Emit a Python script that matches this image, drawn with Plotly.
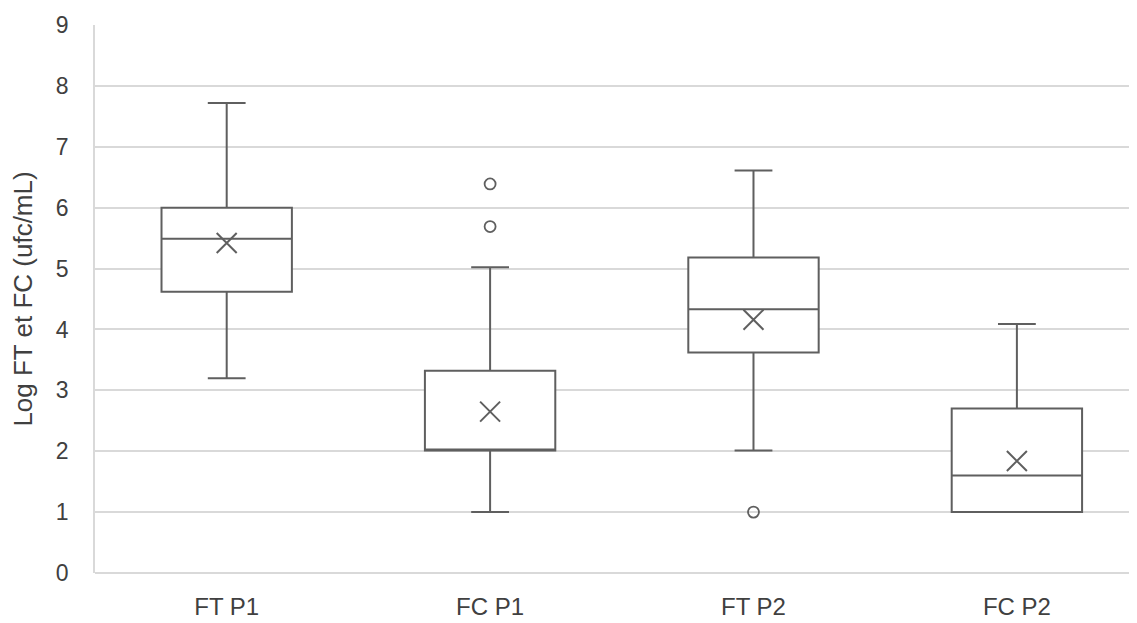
import plotly.graph_objects as go

categories = ["FT P1", "FC P1", "FT P2", "FC P2"]
lower_fence = [3.20, 1.00, 2.01, 1.00]
q1 = [4.62, 2.01, 3.62, 1.00]
median = [5.49, 2.02, 4.33, 1.60]
q3 = [6.00, 3.32, 5.18, 2.70]
upper_fence = [7.72, 5.02, 6.61, 4.09]
means = [5.42, 2.65, 4.16, 1.84]
outlier_cats = ["FC P1", "FC P1", "FT P2"]
outlier_vals = [6.39, 5.69, 1.00]
y_ticks = [0, 1, 2, 3, 4, 5, 6, 7, 8, 9]

line_col = "#5f5f5f"
text_col = "#404040"
grid_col = "#d9d9d9"

fig = go.Figure()
fig.add_trace(go.Box(
    x=categories, q1=q1, median=median, q3=q3,
    lowerfence=lower_fence, upperfence=upper_fence,
    width=0.495, whiskerwidth=0.29,
    fillcolor="white", line=dict(color=line_col, width=2),
    boxpoints=False, showlegend=False, hoverinfo="skip",
))
fig.add_trace(go.Scatter(
    x=categories, y=means, mode="markers",
    marker=dict(symbol="x-thin-open", size=20, line=dict(color=line_col, width=2), color=line_col),
    showlegend=False, hoverinfo="skip",
))
fig.add_trace(go.Scatter(
    x=outlier_cats, y=outlier_vals, mode="markers",
    marker=dict(symbol="circle-open", size=11, line=dict(color=line_col, width=1.8), color=line_col),
    showlegend=False, hoverinfo="skip",
))

fig.update_layout(
    width=1129, height=615,
    margin=dict(l=87, r=0, t=17, b=50),
    paper_bgcolor="white", plot_bgcolor="white",
    font=dict(family="Liberation Sans, Arial, sans-serif", color=text_col),
    xaxis=dict(
        type="category", categoryorder="array", categoryarray=categories,
        range=[-0.5, 3.456], showgrid=False, zeroline=False, automargin=False,
        showline=False, tickfont=dict(size=24, color=text_col), ticks="",
        ticklabelstandoff=17,
    ),
    yaxis=dict(
        range=[0, 9], tickvals=y_ticks, showgrid=True, gridcolor=grid_col, gridwidth=1.8,
        zeroline=True, zerolinecolor=grid_col, zerolinewidth=1.8, automargin=False,
        showline=True, linecolor=grid_col, linewidth=1.8,
        tickfont=dict(size=23, color=text_col), ticks="", ticklabelstandoff=20,
        title=dict(text="Log FT et FC (ufc/mL)", font=dict(size=26, color=text_col), standoff=17),
    ),
)

fig.write_html("out.html")
